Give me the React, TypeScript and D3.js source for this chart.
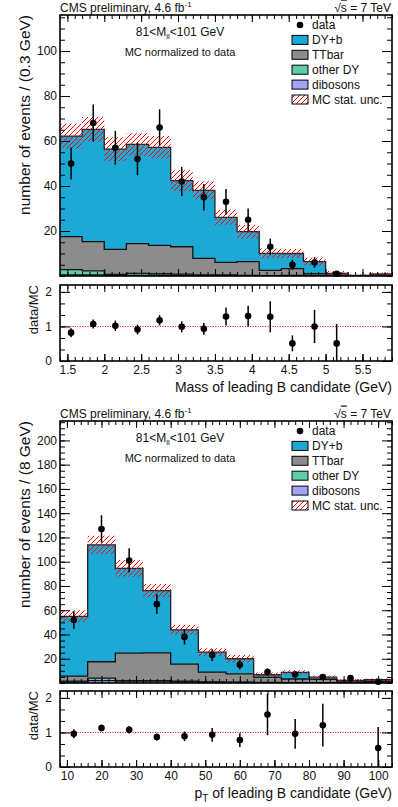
import { useEffect, useRef } from 'react';
import * as d3 from 'd3';

// ---- mass of leading B candidate (top plot) ----
const massEdges = [1.4, 1.7, 2.0, 2.3, 2.6, 2.9, 3.2, 3.5, 3.8, 4.1, 4.4, 4.7, 5.0, 5.3, 5.6, 5.9];
const massDibosons = [0.5, 0.5, 0.3, 0.3, 0.3, 0.3, 0.2, 0.2, 0.1, 0.1, 0.1, 0, 0, 0, 0];
const massOtherDY = [2.3, 1.8, 0.4, 0.9, 0.7, 0.5, 0.3, 0.3, 0.2, 0.1, 0.2, 0.1, 0, 0, 0];
const massTTbar = [14.7, 13.0, 11.1, 13.2, 12.6, 12.2, 7.3, 5.6, 6.1, 2.3, 3.0, 0.9, 0.4, 0, 0];
const massDYb = [44.7, 49.9, 44.6, 44.1, 43.6, 29.4, 30.3, 20.0, 13.3, 7.6, 6.7, 5.4, 0.8, 0.3, 0.9];
const massUnc = [5.5, 5.5, 5.3, 5.0, 5.0, 4.6, 4.0, 3.3, 3.0, 2.1, 2.0, 1.7, 1.0, 0.5, 0.7];
const massData = [50, 68, 57, 52, 66, 42, 35, 33, 25, 13, 5, 6, 1];
const massDataErr = [7.1, 8.2, 7.5, 7.2, 8.1, 6.5, 5.9, 5.7, 5.0, 3.6, 2.2, 2.4, 1.0];
const massRatio = [0.82, 1.07, 1.02, 0.91, 1.18, 0.99, 0.93, 1.29, 1.3, 1.28, 0.51, 1.0, 0.51];
const massRatioErr = [0.13, 0.13, 0.15, 0.14, 0.15, 0.16, 0.17, 0.26, 0.3, 0.45, 0.23, 0.48, 0.56];
const massTicks = [1.5, 2, 2.5, 3, 3.5, 4, 4.5, 5, 5.5];
const massYTicks = [20, 40, 60, 80, 100];

// ---- pT of leading B candidate (bottom plot) ----
const ptEdges = [8, 16, 24, 32, 40, 48, 56, 64, 72, 80, 88, 96, 104];
const ptDibosons = [0.8, 2.0, 1.5, 1.5, 1.2, 0.6, 0.4, 0.3, 0.2, 0.2, 0.1, 0.1];
const ptOtherDY = [0.7, 2.0, 0.5, 0.5, 0.3, 0.3, 0.2, 0.2, 0.1, 0.1, 0.1, 0];
const ptTTbar = [4.2, 13.5, 22.6, 22.9, 14.1, 8.1, 7.0, 4.1, 3.0, 2.8, 1.4, 1.2];
const ptDYb = [49.3, 96.4, 69.9, 51.2, 28.2, 16.5, 12.4, 2.2, 5.4, 1.7, 0.5, 1.4];
const ptUnc = [5.0, 7.5, 7.0, 5.5, 4.0, 3.2, 3.0, 1.8, 1.8, 1.4, 1.0, 1.0];
const ptData = [52, 127, 101, 65, 38, 23, 15, 9, 7, 5, 4, 1];
const ptDataErr = [7.2, 11.3, 10.0, 8.1, 6.2, 4.8, 3.9, 3.0, 2.6, 2.2, 2.0, 1.0];
const ptRatio = [0.96, 1.13, 1.08, 0.87, 0.89, 0.93, 0.78, 1.52, 0.96, 1.21, null, 0.55];
const ptRatioErr = [0.13, 0.1, 0.11, 0.1, 0.14, 0.2, 0.2, 0.6, 0.43, 0.62, 0, 0.61];
const ptTicks = [10, 20, 30, 40, 50, 60, 70, 80, 90, 100];
const ptYTicks = [20, 40, 60, 80, 100, 120, 140, 160, 180, 200];

const legendLabels = ['data', 'DY+b', 'TTbar', 'other DY', 'dibosons', 'MC stat. unc.'];
const ratioTicks = [0, 1, 2];

const colors = {
  dibosons: '#a3a3f7',
  otherDY: '#62cca8',
  ttbar: '#8c8c8c',
  dyb: '#1ca9d6',
};
const FONT = '"Liberation Sans", Arial, Helvetica, sans-serif';
const LEFT = 60;
const RIGHT = 392;

type Panel = {
  top: number;
  bottom: number;
  ratioTop: number;
  ratioBottom: number;
  edges: number[];
  dibosons: number[];
  otherDY: number[];
  ttbar: number[];
  dyb: number[];
  unc: number[];
  data: number[];
  dataErr: number[];
  ratio: (number | null)[];
  ratioErr: number[];
  yMax: number;
  yTicks: number[];
  xTicks: number[];
  xMinor: number;
  yTitle: string;
  xTitle: 'mass' | 'pt';
};

function drawFrameTicks(g: any, x: any, y: any, top: number, bottom: number,
  xMajor: number[], xMinor: number[], yMajor: number[], yMinor: number[],
  xLen: [number, number], yLen: [number, number]) {
  // bottom + top x ticks, left + right y ticks, all pointing inward
  const addAxis = (axis: any, tr: string) => {
    const a = g.append('g').attr('transform', tr).call(axis);
    a.select('.domain').remove();
    a.selectAll('line').attr('stroke', '#000').attr('stroke-width', 1);
    return a;
  };
  addAxis(d3.axisBottom(x).tickValues(xMinor).tickSize(-xLen[1]).tickFormat(() => ''), `translate(0,${bottom})`);
  addAxis(d3.axisBottom(x).tickValues(xMajor).tickSize(-xLen[0]).tickFormat(() => ''), `translate(0,${bottom})`);
  addAxis(d3.axisTop(x).tickValues(xMinor).tickSize(-xLen[1]).tickFormat(() => ''), `translate(0,${top})`);
  addAxis(d3.axisTop(x).tickValues(xMajor).tickSize(-xLen[0]).tickFormat(() => ''), `translate(0,${top})`);
  addAxis(d3.axisLeft(y).tickValues(yMinor).tickSize(-yLen[1]).tickFormat(() => ''), `translate(${LEFT},0)`);
  addAxis(d3.axisRight(y).tickValues(yMinor).tickSize(-yLen[1]).tickFormat(() => ''), `translate(${RIGHT},0)`);
  addAxis(d3.axisRight(y).tickValues(yMajor).tickSize(-yLen[0]).tickFormat(() => ''), `translate(${RIGHT},0)`);
}

function drawPanel(svg: any, p: Panel) {
  const g = svg.append('g');
  const xLo = p.edges[0];
  const xHi = p.edges[p.edges.length - 1];
  const x = d3.scaleLinear().domain([xLo, xHi]).range([LEFT, RIGHT]);
  const y = d3.scaleLinear().domain([0, p.yMax]).range([p.bottom, p.top]);
  const yr = d3.scaleLinear().domain([0, 2.2]).range([p.ratioBottom, p.ratioTop]);

  const clipId = 'clip' + p.top;
  svg.select('defs').append('clipPath').attr('id', clipId)
    .append('rect').attr('x', LEFT).attr('y', p.top).attr('width', RIGHT - LEFT).attr('height', p.bottom - p.top);

  // stack table
  const keys = ['dibosons', 'otherDY', 'ttbar', 'dyb'];
  const rows = p.dyb.map((_, i) => ({
    dibosons: p.dibosons[i],
    otherDY: p.otherDY[i],
    ttbar: p.ttbar[i],
    dyb: p.dyb[i],
  }));
  const layers = d3.stack<any>().keys(keys)(rows);

  const stepPts = (lo: (i: number) => number, hi: (i: number) => number) => {
    const pts: { x: number; y0: number; y1: number }[] = [];
    for (let i = 0; i < rows.length; i++) {
      pts.push({ x: p.edges[i], y0: lo(i), y1: hi(i) });
      pts.push({ x: p.edges[i + 1], y0: lo(i), y1: hi(i) });
    }
    return pts;
  };
  const area = d3.area<any>().x((d) => x(d.x)).y0((d) => y(d.y0)).y1((d) => y(d.y1));
  const line = d3.line<any>().x((d) => x(d.x)).y((d) => y(d.y1));

  const hist = g.append('g').attr('clip-path', `url(#${clipId})`);
  layers.forEach((layer: any) => {
    const pts = stepPts((i) => layer[i][0], (i) => layer[i][1]);
    hist.append('path').attr('d', area(pts)).attr('fill', (colors as any)[layer.key]);
  });
  layers.forEach((layer: any) => {
    const pts = stepPts(() => 0, (i) => layer[i][1]);
    hist.append('path').attr('d', line(pts)).attr('fill', 'none')
      .attr('stroke', layer.key === 'dyb' ? '#222' : '#111').attr('stroke-width', 1.3);
  });

  // MC stat uncertainty band
  const total = layers[layers.length - 1];
  const band = stepPts((i) => Math.max(0, total[i][1] - p.unc[i]), (i) => total[i][1] + p.unc[i]);
  hist.append('path').attr('d', area(band)).attr('fill', 'url(#hatch)');

  // data points
  const centers = p.data.map((_, i) => (p.edges[i] + p.edges[i + 1]) / 2);
  p.data.forEach((v, i) => {
    const cx = x(centers[i]);
    g.append('line').attr('x1', cx).attr('x2', cx)
      .attr('y1', y(Math.max(0, v - p.dataErr[i]))).attr('y2', y(v + p.dataErr[i]))
      .attr('stroke', '#000').attr('stroke-width', 1.5);
    g.append('circle').attr('cx', cx).attr('cy', y(v)).attr('r', 3.3).attr('fill', '#000');
  });

  // main frame ticks
  const xMinor = d3.range(xLo, xHi + 1e-6, p.xMinor);
  const yMinor = d3.range(0, p.yMax, 5);
  drawFrameTicks(g, x, y, p.top, p.bottom, p.xTicks, xMinor, p.yTicks, yMinor, [7, 4], [10, 5]);
  const yAx = g.append('g').attr('transform', `translate(${LEFT},0)`)
    .call(d3.axisLeft(y).tickValues(p.yTicks).tickSize(-10).tickPadding(3).tickFormat(d3.format('d')));
  yAx.select('.domain').remove();
  yAx.selectAll('line').attr('stroke', '#000');
  yAx.selectAll('text').attr('font-size', 12).attr('font-family', FONT).attr('fill', '#111');
  g.append('rect').attr('x', LEFT).attr('y', p.top).attr('width', RIGHT - LEFT).attr('height', p.bottom - p.top)
    .attr('fill', 'none').attr('stroke', '#000').attr('stroke-width', 1.6);

  // labels on the top panel
  const t = g.append('text').attr('x', LEFT).attr('y', p.top - 3.5)
    .attr('font-size', 12).attr('font-family', FONT).attr('fill', '#111');
  t.append('tspan').text('CMS preliminary, 4.6 fb');
  t.append('tspan').attr('font-size', 8).attr('dy', -5).text('-1');
  const s = g.append('text').attr('x', RIGHT - 1).attr('y', p.top - 3.5).attr('text-anchor', 'end')
    .attr('font-size', 12).attr('font-family', FONT).attr('fill', '#111');
  s.append('tspan').text('√');
  s.append('tspan').attr('text-decoration', 'overline').text('s');
  s.append('tspan').text(' = 7 TeV');

  const m = g.append('text').attr('x', 180).attr('y', p.top + 20.5).attr('text-anchor', 'middle')
    .attr('font-size', 12).attr('font-family', FONT).attr('fill', '#111');
  m.append('tspan').text('81<M');
  m.append('tspan').attr('font-size', 8).attr('dy', 3).text('ll');
  m.append('tspan').attr('dy', -3).text('<101 GeV');
  g.append('text').attr('x', 180).attr('y', p.top + 41).attr('text-anchor', 'middle')
    .attr('font-size', 11).attr('font-family', FONT).attr('fill', '#111').text('MC normalized to data');

  g.append('text')
    .attr('transform', `translate(30,${p.top}) rotate(-90)`).attr('text-anchor', 'end')
    .attr('font-size', 15.5).attr('font-family', FONT).attr('fill', '#111').text(p.yTitle);

  // legend
  const legFill = ['', colors.dyb, colors.ttbar, colors.otherDY, colors.dibosons, 'url(#hatch)'];
  legendLabels.forEach((lab, i) => {
    const ly = p.top + 10 + i * 14.9;
    if (i === 0) {
      g.append('circle').attr('cx', 300).attr('cy', ly).attr('r', 3.3).attr('fill', '#000');
    } else {
      g.append('rect').attr('x', 292).attr('y', ly - 4.5).attr('width', 16).attr('height', 9)
        .attr('fill', legFill[i]).attr('stroke', '#000').attr('stroke-width', 1);
    }
    g.append('text').attr('x', 312).attr('y', ly + 4.3).attr('font-size', 12)
      .attr('font-family', FONT).attr('fill', '#111').text(lab);
  });

  // ratio panel
  g.append('line').attr('x1', LEFT).attr('x2', RIGHT).attr('y1', yr(1)).attr('y2', yr(1))
    .attr('stroke', '#f00').attr('stroke-width', 1).attr('stroke-dasharray', '1,1.5');
  p.ratio.forEach((v, i) => {
    if (v === null) return;
    const cx = x(centers[i]);
    g.append('line').attr('x1', cx).attr('x2', cx)
      .attr('y1', yr(Math.max(0, v - p.ratioErr[i]))).attr('y2', yr(v + p.ratioErr[i]))
      .attr('stroke', '#000').attr('stroke-width', 1.5);
    g.append('circle').attr('cx', cx).attr('cy', yr(v)).attr('r', 3.3).attr('fill', '#000');
  });
  const rMinor = d3.range(0, 2.2, 1 / 3);
  drawFrameTicks(g, x, yr, p.ratioTop, p.ratioBottom, p.xTicks, xMinor, ratioTicks, rMinor, [7, 4], [10, 5]);
  const xAx = g.append('g').attr('transform', `translate(0,${p.ratioBottom})`)
    .call(d3.axisBottom(x).tickValues(p.xTicks).tickSize(-7).tickPadding(4.5).tickFormat((d: any) => String(d)));
  xAx.select('.domain').remove();
  xAx.selectAll('line').attr('stroke', '#000');
  xAx.selectAll('text').attr('font-size', 12).attr('font-family', FONT).attr('fill', '#111');
  const ryAx = g.append('g').attr('transform', `translate(${LEFT},0)`)
    .call(d3.axisLeft(yr).tickValues(ratioTicks).tickSize(-10).tickPadding(8).tickFormat(d3.format('d')));
  ryAx.select('.domain').remove();
  ryAx.selectAll('line').attr('stroke', '#000');
  ryAx.selectAll('text').attr('font-size', 12).attr('font-family', FONT).attr('fill', '#111');
  g.append('rect').attr('x', LEFT).attr('y', p.ratioTop).attr('width', RIGHT - LEFT)
    .attr('height', p.ratioBottom - p.ratioTop)
    .attr('fill', 'none').attr('stroke', '#000').attr('stroke-width', 1.6);

  g.append('text')
    .attr('transform', `translate(38,${p.ratioTop}) rotate(-90)`).attr('text-anchor', 'end')
    .attr('font-size', 13).attr('font-family', FONT).attr('fill', '#111').text('data/MC');

  const xt = g.append('text').attr('x', RIGHT).attr('y', p.ratioBottom + 31).attr('text-anchor', 'end')
    .attr('font-size', 14).attr('font-family', FONT).attr('fill', '#111');
  if (p.xTitle === 'mass') {
    xt.text('Mass of leading B candidate (GeV)');
  } else {
    xt.append('tspan').text('p');
    xt.append('tspan').attr('font-size', 10).attr('dy', 4).text('T');
    xt.append('tspan').attr('dy', -4).text(' of leading B candidate (GeV)');
  }
}

const App = () => {
  const svgRef = useRef<SVGSVGElement>(null);

  useEffect(() => {
    const svg = d3.select(svgRef.current);
    svg.selectAll('*').remove();
    const defs = svg.append('defs');
    const pat = defs.append('pattern').attr('id', 'hatch').attr('patternUnits', 'userSpaceOnUse')
      .attr('width', 5).attr('height', 5);
    pat.append('path').attr('d', 'M-1,1 l2,-2 M0,5 l5,-5 M4,6 l2,-2')
      .attr('stroke', '#ff0000').attr('stroke-width', 1);

    drawPanel(svg, {
      top: 15, bottom: 276, ratioTop: 285, ratioBottom: 361,
      edges: massEdges, dibosons: massDibosons, otherDY: massOtherDY, ttbar: massTTbar, dyb: massDYb,
      unc: massUnc, data: massData, dataErr: massDataErr, ratio: massRatio, ratioErr: massRatioErr,
      yMax: 116, yTicks: massYTicks, xTicks: massTicks, xMinor: 0.1,
      yTitle: 'number of events / (0.3 GeV)', xTitle: 'mass',
    });
    drawPanel(svg, {
      top: 421, bottom: 683, ratioTop: 691, ratioBottom: 767,
      edges: ptEdges, dibosons: ptDibosons, otherDY: ptOtherDY, ttbar: ptTTbar, dyb: ptDYb,
      unc: ptUnc, data: ptData, dataErr: ptDataErr, ratio: ptRatio, ratioErr: ptRatioErr,
      yMax: 216, yTicks: ptYTicks, xTicks: ptTicks, xMinor: 2,
      yTitle: 'number of events / (8 GeV)', xTitle: 'pt',
    });
  }, []);

  return (
    <svg
      ref={svgRef}
      width={398}
      height={807}
      style={{ position: 'absolute', left: 0, top: 0, background: '#fff' }}
    />
  );
};

export default App;
